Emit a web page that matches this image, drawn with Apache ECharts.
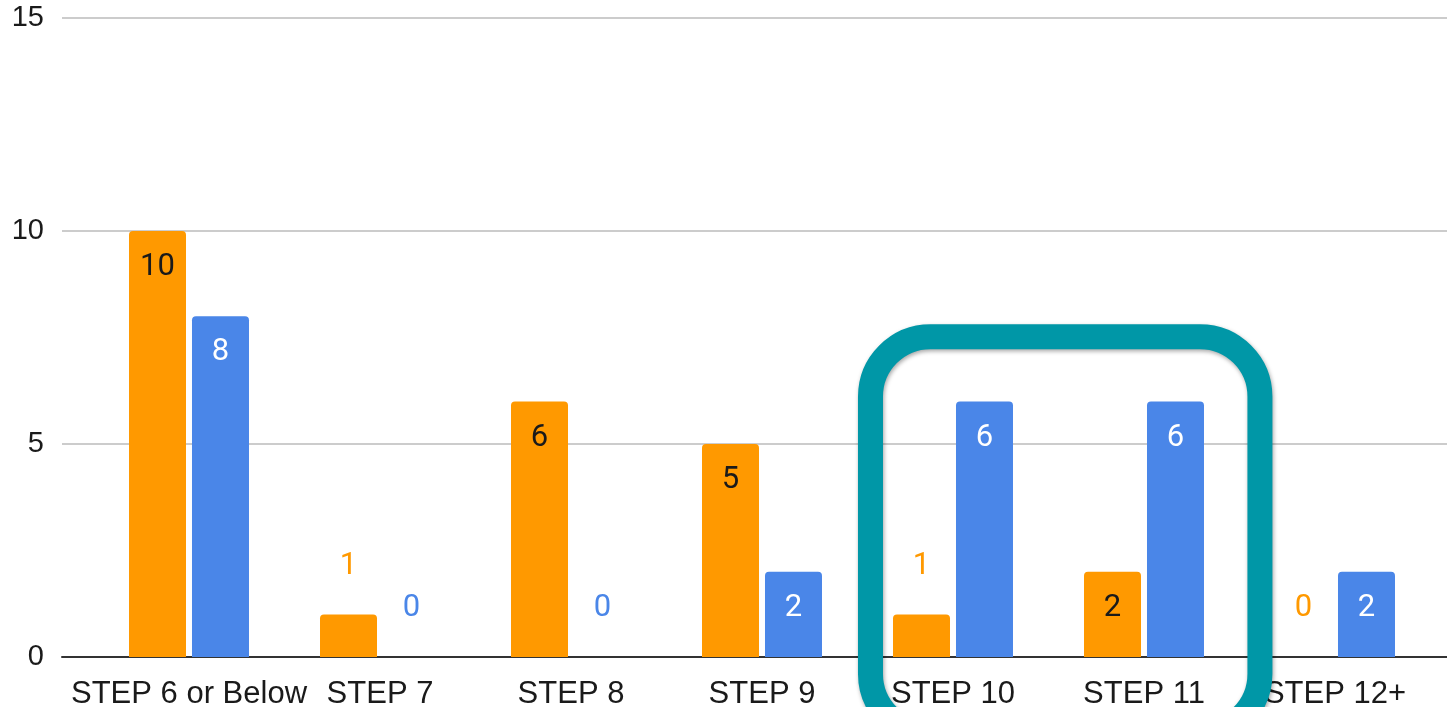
<!DOCTYPE html>
<html>
<head>
<meta charset="utf-8">
<script src="https://cdn.jsdelivr.net/npm/echarts@6/dist/echarts.min.js"></script>
<style>
html,body{margin:0;padding:0;background:#fff;}
#chart{width:1447px;height:707px;}
</style>
</head>
<body>
<div id="chart"></div>
<script>
// ---- data ----
const categories = ['STEP 6 or Below', 'STEP 7', 'STEP 8', 'STEP 9', 'STEP 10', 'STEP 11', 'STEP 12+'];
const orangeValues = [10, 1, 6, 5, 1, 2, 0];
const blueValues = [8, 0, 0, 2, 6, 6, 2];
const yTicks = [0, 5, 10, 15];
const highlighted = ['STEP 10', 'STEP 11'];

const ORANGE = '#ff9900';
const BLUE = '#4a86e8';
const TEAL = '#0097a7';
const LABEL_FONT = 'Roboto, "Noto Sans", sans-serif';
const AXIS_FONT = '"Liberation Sans", Arial, sans-serif';

function buildData(values, color, insideColor) {
  return values.map(v => {
    const inside = v >= 2;
    return {
      value: v,
      label: inside
        ? { position: 'insideTop', distance: 21, color: insideColor }
        : { position: 'top', distance: 33, color: color }
    };
  });
}

const chart = echarts.init(document.getElementById('chart'), null, { renderer: 'canvas' });

const yMin = yTicks[0], yMax = yTicks[yTicks.length - 1], yStep = yTicks[1] - yTicks[0];

const option = {
  animation: false,
  backgroundColor: '#ffffff',
  grid: [
    { left: 93.5, right: 16.5, top: 18, bottom: 50, outerBoundsMode: 'none', containLabel: false },
    { left: 62, right: 0, top: 18, bottom: 50, outerBoundsMode: 'none', containLabel: false }
  ],
  xAxis: [
    {
      gridIndex: 0,
      type: 'category',
      data: categories,
      axisLine: { show: false },
      axisTick: { show: false },
      axisLabel: { fontFamily: AXIS_FONT, fontSize: 31, color: '#1a1a1a', margin: 22, interval: 0 },
      splitLine: { show: false }
    },
    {
      gridIndex: 1,
      type: 'value',
      min: 0, max: 1,
      axisLine: { show: true, lineStyle: { color: '#333333', width: 2 } },
      axisTick: { show: false },
      axisLabel: { show: false },
      splitLine: { show: false }
    }
  ],
  yAxis: [
    {
      gridIndex: 0,
      type: 'value',
      min: yMin, max: yMax, interval: yStep,
      show: false,
      splitLine: { show: false }
    },
    {
      gridIndex: 1,
      type: 'value',
      min: yMin, max: yMax, interval: yStep,
      axisLine: { show: false },
      axisTick: { show: false },
      axisLabel: { fontFamily: AXIS_FONT, fontSize: 29, color: '#1a1a1a', margin: 18 },
      splitLine: { show: true, lineStyle: { color: '#cccccc', width: 2 } }
    }
  ],
  series: [
    {
      name: 'Orange',
      type: 'bar',
      xAxisIndex: 0, yAxisIndex: 0,
      data: buildData(orangeValues, ORANGE, '#1a1a1a'),
      barWidth: 57,
      barGap: '10.5%',
      itemStyle: { color: ORANGE, borderRadius: [4, 4, 0, 0] },
      label: { show: true, fontFamily: LABEL_FONT, fontSize: 31 },
      z: 3
    },
    {
      name: 'Blue',
      type: 'bar',
      xAxisIndex: 0, yAxisIndex: 0,
      data: buildData(blueValues, BLUE, '#ffffff'),
      barWidth: 57,
      barGap: '10.5%',
      itemStyle: { color: BLUE, borderRadius: [4, 4, 0, 0] },
      label: { show: true, fontFamily: LABEL_FONT, fontSize: 31 },
      z: 3
    }
  ]
};

chart.setOption(option);

// ---- annotation ring around highlighted categories ----
(function () {
  const i0 = categories.indexOf(highlighted[0]);
  const i1 = categories.indexOf(highlighted[highlighted.length - 1]);
  const c0 = chart.convertToPixel({ xAxisIndex: 0 }, categories[i0]);
  const c1 = chart.convertToPixel({ xAxisIndex: 0 }, categories[i1]);
  const cA = chart.convertToPixel({ xAxisIndex: 0 }, categories[0]);
  const cB = chart.convertToPixel({ xAxisIndex: 0 }, categories[1]);
  const band = cB - cA;
  const ringLeft = c0 - band * 0.432;
  const ringRight = c1 + band * 0.607;
  const ringTop = chart.convertToPixel({ yAxisIndex: 0 }, 7.52);
  const ringBottom = chart.convertToPixel({ yAxisIndex: 0 }, -1.8);

  chart.setOption({
    graphic: [{
      type: 'rect',
      z: 100,
      silent: true,
      shape: { x: ringLeft, y: ringTop, width: ringRight - ringLeft, height: ringBottom - ringTop, r: 60 },
      style: {
        fill: 'none',
        stroke: TEAL,
        lineWidth: 25,
        shadowColor: 'rgba(0,0,0,0.35)',
        shadowBlur: 4,
        shadowOffsetX: 1,
        shadowOffsetY: 2
      }
    }]
  });
})();
</script>
</body>
</html>
